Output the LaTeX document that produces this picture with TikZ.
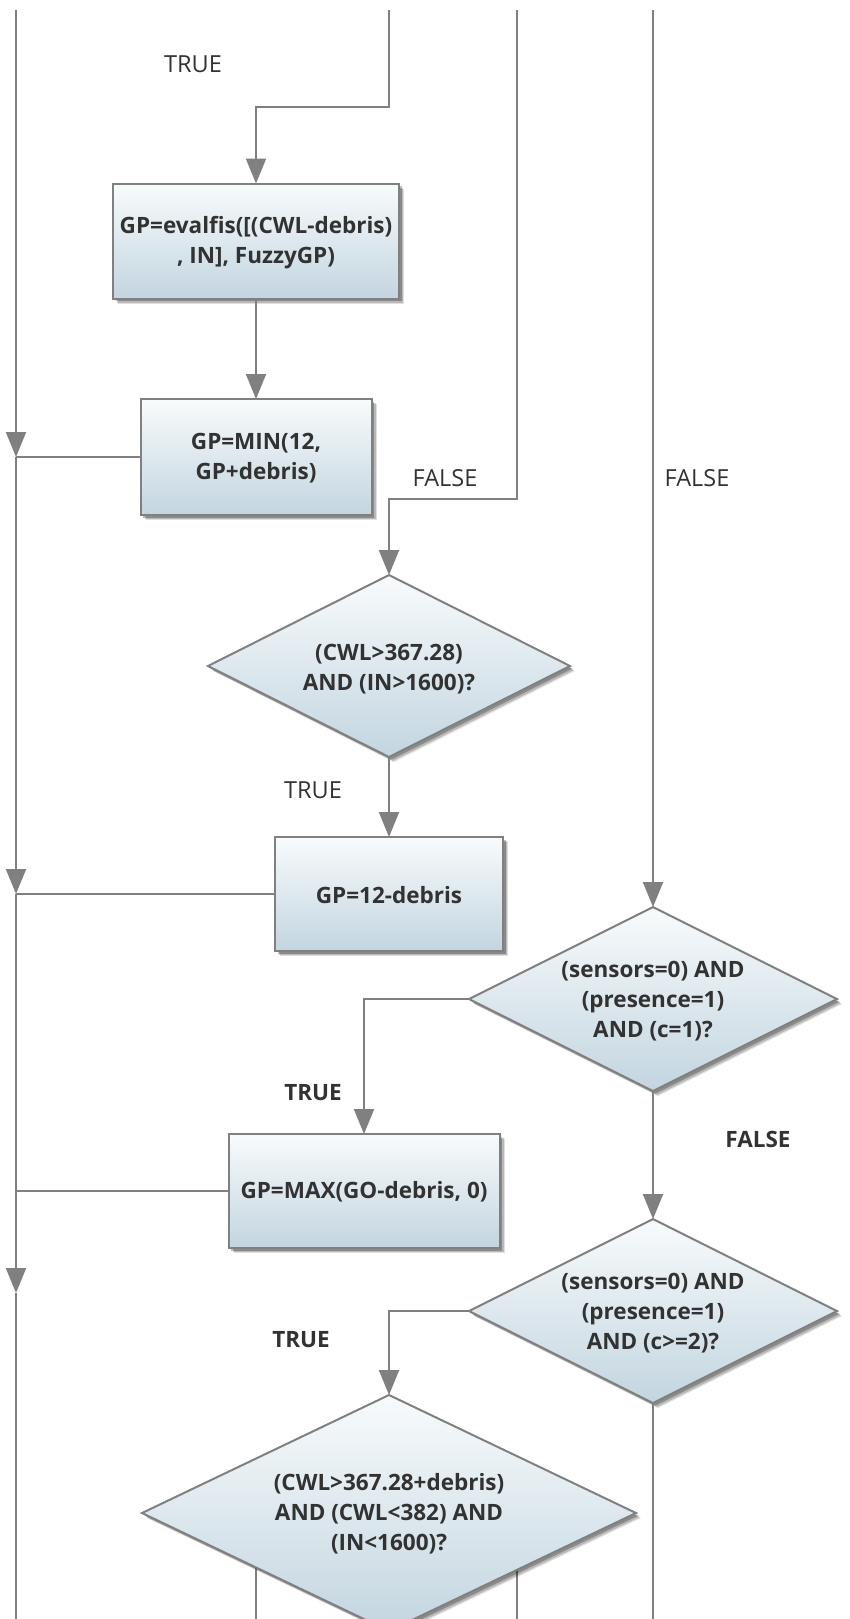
\documentclass[tikz,border=0pt]{standalone}
\usepackage{fontspec}
\setmainfont{Open Sans}
\usetikzlibrary{arrows.meta,shapes.geometric,shadows,backgrounds}

\definecolor{linegray}{RGB}{128,128,128}
\definecolor{txtgray}{RGB}{50,50,50}
\definecolor{filltop}{RGB}{248,251,252}
\definecolor{fillbot}{RGB}{195,213,224}

\begin{document}
\begin{tikzpicture}[x=1pt,y=-1pt,
  conn/.style={draw=linegray,line width=2pt},
  arr/.style={conn,-{Triangle[length=25pt,width=20pt]}},
  % soft shadow built from a few stacked offsets
  shadowed/.style={
    drop shadow={shadow xshift=5pt,shadow yshift=-5pt,fill=black,opacity=0.12},
    drop shadow={shadow xshift=4pt,shadow yshift=-4pt,fill=black,opacity=0.18},
    drop shadow={shadow xshift=2.5pt,shadow yshift=-2.5pt,fill=black,opacity=0.25}},
  procbox/.style={rectangle,draw=linegray,line width=2pt,top color=filltop,bottom color=fillbot,
    shadowed,inner sep=0pt,outer sep=0pt},
  decision/.style={diamond,draw=linegray,line width=2pt,top color=filltop,bottom color=fillbot,
    shadowed,inner sep=0pt,outer sep=0pt},
  boxtext/.style={font=\bfseries\fontsize{22.5}{30}\selectfont,text=txtgray,align=center,inner sep=0pt},
  lbl/.style={font=\fontsize{23.5}{26}\selectfont,text=txtgray,inner sep=0pt},
  lblb/.style={font=\bfseries\fontsize{22.5}{26}\selectfont,text=txtgray,inner sep=0pt}]

\useasboundingbox (0,0) rectangle (849,1619);

% ---- process boxes ----
\node[procbox,minimum width=286pt,minimum height=115pt] (b1) at (256,241) {};
\node[boxtext] (b1t) at (256,243) {GP=evalfis([(CWL-debris)\\, IN], FuzzyGP)};
\node[procbox,minimum width=231pt,minimum height=116pt] (b2) at (256,457) {};
\node[boxtext] (b2t) at (256,458) {GP=MIN(12,\\GP+debris)};
\node[procbox,minimum width=228pt,minimum height=114pt] (b3) at (389,894) {};
\node[boxtext] (b3t) at (389,895) {GP=12-debris};
\node[procbox,minimum width=271pt,minimum height=114pt] (b4) at (364,1191) {};
\node[boxtext] (b4t) at (364,1192) {GP=MAX(GO-debris, 0)};

% ---- decisions ----
\node[decision,minimum width=362pt,minimum height=182pt] (d1) at (389,666) {};
\node[boxtext] (d1t) at (389,669) {(CWL>367.28)\\AND (IN>1600)?};
\node[decision,minimum width=368pt,minimum height=184pt] (d2) at (653,999) {};
\node[boxtext] (d2t) at (653,1001) {(sensors=0) AND\\(presence=1)\\AND (c=1)?};
\node[decision,minimum width=368pt,minimum height=184pt] (d3) at (653,1311) {};
\node[boxtext] (d3t) at (653,1313) {(sensors=0) AND\\(presence=1)\\AND (c>=2)?};
\node[decision,minimum width=494pt,minimum height=236pt] (d4) at (389,1513) {};
\node[boxtext] (d4t) at (389,1514) {(CWL>367.28+debris)\\AND (CWL<382) AND\\(IN<1600)?};

% ---- branch labels ----
\node[lbl] (l1) at (193,64) {TRUE};
\node[lbl] (l2) at (445,478) {FALSE};
\node[lbl] (l3) at (697,478) {FALSE};
\node[lbl] (l4) at (313,790) {TRUE};
\node[lblb] (l5) at (313,1093) {TRUE};
\node[lblb] (l6) at (758,1139) {FALSE};
\node[lblb] (l7) at (301,1340) {TRUE};

% ---- free ends of the incoming and outgoing lines ----
\coordinate (tL) at (16,10);
\coordinate (tB) at (389,10);
\coordinate (kB) at (389,107);
\coordinate (tC) at (517,10);
\coordinate (kC) at (517,499);
\coordinate (tD) at (653,10);
\coordinate (m3) at (16,1293);
\coordinate (eL) at (16,1619);
\coordinate (eA) at (256,1619);
\coordinate (eC) at (517,1619);
\coordinate (eD) at (653,1619);

% ---- connectors ----
\draw[arr] (tB) -- (kB) -| (b1.north);
\draw[arr] (b1.south) -- (b2.north);
\draw[arr] (tC) -- (kC) -| (d1.north);
\draw[arr] (tD) -- (d2.north);
\draw[arr] (d1.south) -- (b3.north);
\draw[arr] (d2.west) -| (b4.north);
\draw[arr] (d2.south) -- (d3.north);
\draw[arr] (d3.west) -| (d4.north);
\draw[conn] (d3.south) -- (eD);

% left return line
\draw[conn] (b2.west) -- (b2.west -| tL);
\draw[conn] (b3.west) -- (b3.west -| tL);
\draw[conn] (b4.west) -- (b4.west -| tL);
\draw[arr] (tL) -- (b2.west -| tL);
\draw[arr] (b2.west -| tL) -- (b3.west -| tL);
\draw[arr] (b3.west -| tL) -- (m3);
\draw[conn] (m3) -- (eL);

% lines leaving the last decision downward
\begin{pgfonlayer}{background}
  \draw[conn] (d4.center -| eA) -- (eA);
  \draw[conn] (d4.center -| eC) -- (eC);
\end{pgfonlayer}
\end{tikzpicture}
\end{document}
